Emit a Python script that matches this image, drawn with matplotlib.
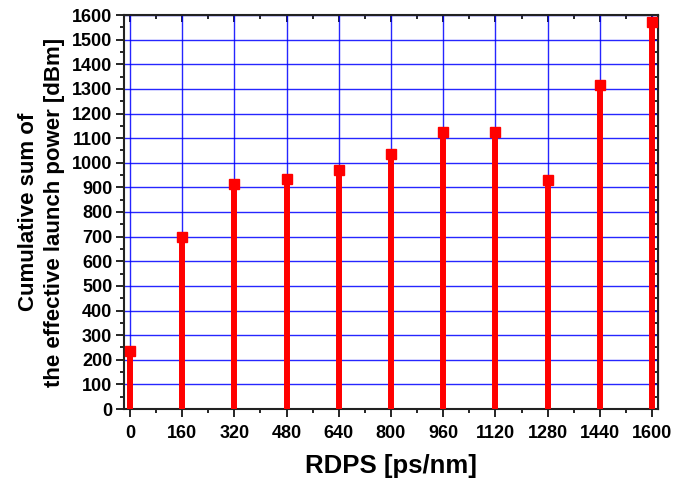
import matplotlib
matplotlib.use('Agg')
import matplotlib.pyplot as plt
from matplotlib.ticker import MultipleLocator

plt.rcParams['font.family'] = ['Liberation Sans', 'DejaVu Sans']
plt.rcParams['font.weight'] = 'bold'

rdps = [0, 160, 320, 480, 640, 800, 960, 1120, 1280, 1440, 1600]
cum_power = [235, 700, 915, 935, 970, 1035, 1125, 1125, 930, 1315, 1570]

fig = plt.figure(figsize=(6.73, 4.79), dpi=100)
ax = fig.add_axes([124 / 673, 1 - 409 / 479, 534 / 673, 394 / 479])

ax.grid(True, color='#0000ff', linewidth=1.0, alpha=0.85, zorder=0)
ax.set_axisbelow(True)

ax.vlines(rdps, 0, cum_power, color='red', linewidth=4.3, zorder=3)
ax.plot(rdps, cum_power, 's', color='red', markersize=7.5, zorder=4, clip_on=False)

ax.set_xlim(-18, 1618)
ax.set_ylim(0, 1600)
ax.xaxis.set_major_locator(MultipleLocator(160))
ax.xaxis.set_minor_locator(MultipleLocator(80))
ax.yaxis.set_major_locator(MultipleLocator(100))
ax.yaxis.set_minor_locator(MultipleLocator(50))

ax.tick_params(which='both', direction='out', top=False, right=False, width=1.2)
ax.tick_params(which='major', length=5.5, labelsize=13, pad=3)
ax.tick_params(axis='x', which='major', pad=6)
ax.tick_params(which='minor', length=3)
for lab in ax.get_xticklabels() + ax.get_yticklabels():
    lab.set_fontweight('bold')

# mirrored inward ticks on top/right
tx = ax.secondary_xaxis('top')
tx.xaxis.set_major_locator(MultipleLocator(160))
tx.xaxis.set_minor_locator(MultipleLocator(80))
tx.tick_params(which='both', direction='in', labeltop=False, width=1.2)
tx.tick_params(which='major', length=5)
tx.tick_params(which='minor', length=3)
ty = ax.secondary_yaxis('right')
ty.yaxis.set_major_locator(MultipleLocator(100))
ty.yaxis.set_minor_locator(MultipleLocator(50))
ty.tick_params(which='both', direction='in', labelright=False, width=1.2)
ty.tick_params(which='major', length=5)
ty.tick_params(which='minor', length=3)

for s in ax.spines.values():
    s.set_linewidth(1.5)
    s.set_color('#222222')

ax.set_xlabel('RDPS [ps/nm]', fontsize=18.5, fontweight='bold', labelpad=9)
ax.set_ylabel('Cumulative sum of\nthe effective launch power [dBm]', fontsize=16,
              fontweight='bold', labelpad=5, linespacing=1.3)

fig.savefig('out.png', dpi=100)
